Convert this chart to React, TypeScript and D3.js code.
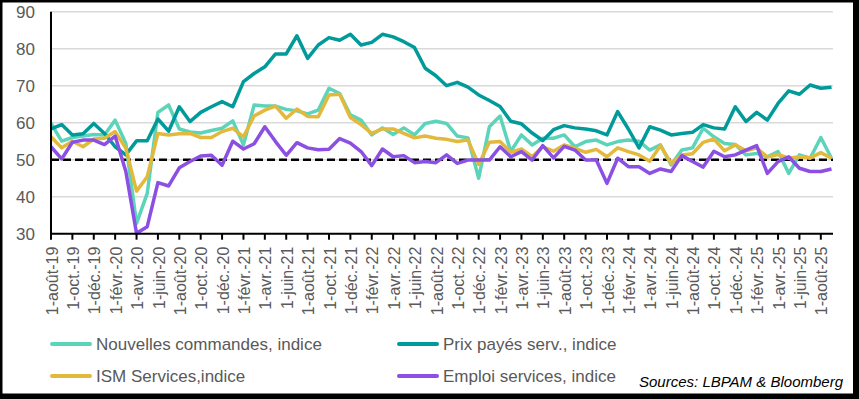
import React, { useEffect, useRef } from 'react';
import * as d3 from 'd3';

// monthly, 1-août-19 .. 1-sept.-25
const startYear = 2019;
const startMonth = 7; // août
const monthLabels = ['janv.', 'févr.', 'mars', 'avr.', 'mai', 'juin', 'juil.', 'août', 'sept.', 'oct.', 'nov.', 'déc.'];

const nouvellesCommandes = [
  59.8, 55.0, 56.0, 56.4, 56.8, 56.7, 60.7, 54.4, 32.8, 40.9, 62.8, 64.8, 58.3,
  57.5, 57.2, 57.9, 58.5, 60.5, 54.0, 64.8, 64.5, 64.5, 63.6, 63.2, 62.4,
  63.4, 69.3, 67.9, 62.1, 60.7, 56.7, 58.6, 56.8, 58.6, 56.7, 59.8, 60.4,
  59.8, 56.4, 55.9, 45.0, 58.9, 61.8, 52.2, 56.7, 54.0, 55.8, 55.8, 56.7,
  53.5, 54.9, 55.3, 54.0, 54.9, 55.3, 55.0, 52.6, 54.0, 48.6, 52.6, 53.2,
  58.5, 56.2, 54.4, 54.1, 51.3, 51.7, 50.8, 52.2, 46.3, 51.3, 50.4, 56.0, 50.4,
];

const prixPayes = [
  58.3, 59.5, 56.7, 57.0, 59.8, 57.1, 53.5, 51.3, 55.1, 55.1, 61.0, 57.7, 64.3,
  60.3, 62.8, 64.3, 65.7, 64.3, 71.1, 73.3, 75.1, 78.6, 78.6, 83.5, 77.4,
  81.0, 83.0, 82.3, 83.9, 81.0, 81.7, 83.9, 83.2, 81.9, 80.3, 74.7, 72.7,
  70.0, 70.9, 69.6, 67.5, 66.0, 64.4, 60.4, 59.7, 57.2, 55.2, 58.1, 59.2,
  58.6, 58.3, 57.8, 56.7, 63.0, 58.3, 53.2, 58.9, 58.0, 56.7, 57.1, 57.4,
  59.5, 58.6, 58.3, 64.3, 60.3, 62.8, 60.7, 65.2, 68.6, 67.7, 70.2, 69.3, 69.6,
];

const ismServices = [
  56.2, 53.2, 55.0, 53.5, 55.6, 55.8, 57.6, 53.1, 41.5, 45.4, 57.1, 56.7, 57.0,
  57.1, 56.0, 56.0, 57.6, 58.5, 56.2, 61.8, 63.4, 64.5, 61.2, 63.7, 61.7,
  61.6, 67.5, 67.7, 61.4, 59.5, 57.1, 58.3, 58.3, 57.1, 55.9, 56.4, 55.8,
  55.5, 54.9, 55.3, 48.7, 54.7, 54.9, 52.0, 52.9, 50.8, 53.5, 52.3, 54.0,
  53.1, 52.0, 52.8, 50.8, 53.2, 52.2, 51.3, 49.6, 53.8, 49.0, 51.3, 51.6,
  54.7, 55.6, 52.4, 54.0, 52.4, 53.2, 50.7, 51.4, 50.4, 50.8, 50.5, 51.9, 50.4,
];

const emploi = [
  53.5, 50.2, 54.7, 55.3, 55.3, 54.1, 56.4, 46.8, 30.1, 31.9, 43.8, 42.9, 47.8,
  49.5, 51.0, 51.2, 48.5, 55.0, 52.9, 54.3, 58.9, 54.9, 51.2, 54.6, 53.2,
  52.7, 52.8, 55.7, 54.5, 52.2, 48.4, 52.9, 50.8, 51.1, 49.2, 49.5, 49.2,
  51.3, 49.0, 49.9, 49.9, 49.9, 53.5, 50.8, 52.2, 49.9, 53.8, 50.5, 53.6,
  52.6, 49.9, 49.9, 43.6, 50.4, 48.1, 48.1, 46.3, 47.5, 46.8, 51.1, 49.5,
  48.0, 52.3, 50.8, 51.3, 52.6, 53.8, 46.3, 49.5, 50.8, 47.7, 46.8, 46.8, 47.5,
];

const series = [
  { name: 'Nouvelles commandes, indice', values: nouvellesCommandes, color: '#5CD4BA' },
  { name: 'Prix payés serv., indice', values: prixPayes, color: '#009A9A' },
  { name: 'ISM Services,indice', values: ismServices, color: '#E3B93C' },
  { name: 'Emploi services, indice', values: emploi, color: '#8C4FE3' },
];

const yTicks = [30, 40, 50, 60, 70, 80, 90];
const font = "'Liberation Sans', Arial, sans-serif";

const tickLabel = (i: number) => {
  const m = (startMonth + i) % 12;
  const y = startYear + Math.floor((startMonth + i) / 12);
  return `1-${monthLabels[m]}-${String(y).slice(2)}`;
};

const App = () => {
  const svgRef = useRef<SVGSVGElement>(null);

  useEffect(() => {
    const svg = d3.select(svgRef.current);
    svg.selectAll('*').remove();

    const W = 859, H = 399;
    const n = nouvellesCommandes.length;

    // frame
    svg.append('rect').attr('x', 0).attr('y', 0).attr('width', W).attr('height', H).attr('fill', '#000');
    svg.append('rect').attr('x', 2.5).attr('y', 2.5).attr('width', 850.5).attr('height', 391).attr('fill', '#fff');

    const x = d3.scaleLinear().domain([0, n - 1]).range([51, 831.5]);
    const y = d3.scaleLinear().domain([30, 90]).range([233.7, 11.7]);
    const xEnd = 833;

    // grid
    svg.append('g')
      .selectAll('line')
      .data(yTicks.filter(t => t > 30))
      .join('line')
      .attr('x1', 51).attr('x2', xEnd)
      .attr('y1', d => y(d)).attr('y2', d => y(d))
      .attr('stroke', '#D9D9D9')
      .attr('stroke-width', 1.5);

    // y labels
    svg.append('g')
      .selectAll('text')
      .data(yTicks)
      .join('text')
      .attr('x', 35)
      .attr('y', d => y(d))
      .attr('dy', '0.35em')
      .attr('text-anchor', 'end')
      .style('font-family', font)
      .style('font-size', '17px')
      .attr('fill', '#595959')
      .text(d => d);

    // 50 threshold
    svg.append('line')
      .attr('x1', 51).attr('x2', xEnd)
      .attr('y1', y(50)).attr('y2', y(50))
      .attr('stroke', '#000')
      .attr('stroke-width', 2.5)
      .attr('stroke-dasharray', '8,4');

    // lines
    const line = d3.line<number>()
      .x((d, i) => x(i))
      .y(d => y(d));

    series.forEach(s => {
      svg.append('path')
        .datum(s.values)
        .attr('d', line)
        .attr('fill', 'none')
        .attr('stroke', s.color)
        .attr('stroke-width', 3.5)
        .attr('stroke-linejoin', 'round');
    });

    // axes
    svg.append('line')
      .attr('x1', 51).attr('x2', 51)
      .attr('y1', y(90)).attr('y2', y(30))
      .attr('stroke', '#000').attr('stroke-width', 2);
    svg.append('line')
      .attr('x1', 50).attr('x2', xEnd)
      .attr('y1', y(30)).attr('y2', y(30))
      .attr('stroke', '#000').attr('stroke-width', 2);

    const tickIdx = d3.range(0, n, 2);
    svg.append('g')
      .selectAll('line')
      .data(tickIdx)
      .join('line')
      .attr('x1', d => x(d)).attr('x2', d => x(d))
      .attr('y1', y(30)).attr('y2', y(30) + 6)
      .attr('stroke', '#000').attr('stroke-width', 2);

    svg.append('g')
      .selectAll('text')
      .data(tickIdx)
      .join('text')
      .attr('transform', d => `translate(${x(d) + 1},${y(30) + 13}) rotate(-90)`)
      .attr('dy', '0.35em')
      .attr('text-anchor', 'end')
      .style('font-family', font)
      .style('font-size', '16px')
      .attr('fill', '#595959')
      .text(d => tickLabel(d));

    // legend
    const legendPos = [
      { x: 52, y: 344 },
      { x: 399, y: 344 },
      { x: 52, y: 376 },
      { x: 399, y: 376 },
    ];
    series.forEach((s, i) => {
      const p = legendPos[i];
      const g = svg.append('g').attr('transform', `translate(${p.x},${p.y})`);
      g.append('line')
        .attr('x1', 0).attr('x2', 38)
        .attr('y1', 0).attr('y2', 0)
        .attr('stroke', s.color)
        .attr('stroke-width', 4)
        .attr('stroke-linecap', 'round');
      g.append('text')
        .attr('x', 44)
        .attr('y', 0)
        .attr('dy', '0.35em')
        .style('font-family', font)
        .style('font-size', '17px')
        .attr('fill', '#595959')
        .text(s.name);
    });

    svg.append('text')
      .attr('x', 843)
      .attr('y', 382)
      .attr('dy', '0.35em')
      .attr('text-anchor', 'end')
      .style('font-family', font)
      .style('font-size', '15px')
      .style('font-style', 'italic')
      .attr('fill', '#000')
      .text('Sources: LBPAM & Bloomberg');
  }, []);

  return (
    <div style={{ position: 'absolute', left: 0, top: 0 }}>
      <svg ref={svgRef} width={859} height={399} style={{ display: 'block' }} />
    </div>
  );
};

export default App;
